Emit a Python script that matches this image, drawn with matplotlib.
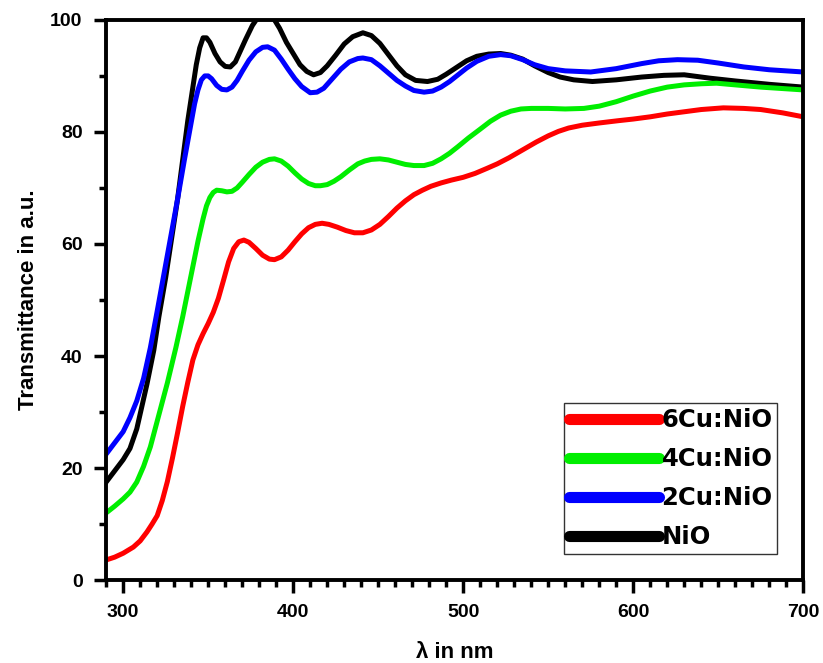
import matplotlib.pyplot as plt
from matplotlib.ticker import MultipleLocator

plt.rcParams['font.family'] = ['Liberation Sans', 'DejaVu Sans']
plt.rcParams['font.weight'] = 'bold'

# NiO (black)
wl_nio = [290, 295, 300, 304, 308, 311, 314, 318, 321, 325, 329, 332, 335, 338, 341,
          343, 345, 347, 349, 351, 354, 357, 360, 363, 366, 369, 372, 376, 380, 384,
          388, 392, 396, 400, 404, 408, 412, 416, 420, 425, 430, 435, 441, 446, 451,
          456, 461, 466, 472, 479, 485, 490, 496, 502, 508, 515, 522, 528, 535, 542,
          550, 557, 565, 576, 590, 605, 618, 630, 645, 660, 680, 700]
t_nio = [17.5, 19.5, 21.5, 23.5, 27, 31, 35, 41, 47, 54, 62, 68, 75, 82, 88,
         92, 95, 96.8, 96.8, 96, 94, 92.5, 91.7, 91.6, 92.5, 94.5, 96.5, 99, 100.8, 101.3,
         100.5, 98.5, 96, 94, 92, 90.8, 90.2, 90.6, 91.8, 93.7, 95.7, 97, 97.7, 97.2, 95.8,
         93.8, 91.8, 90.2, 89.2, 89, 89.4, 90.3, 91.5, 92.7, 93.5, 93.9, 94, 93.7, 93, 91.8,
         90.6, 89.8, 89.3, 89, 89.3, 89.8, 90.1, 90.2, 89.6, 89.1, 88.5, 88]

# 2Cu:NiO (blue)
wl_2cu = [290, 295, 300, 304, 308, 312, 316, 320, 323, 326, 329, 332, 336, 339, 342,
          344, 346, 348, 350, 352, 355, 358, 361, 364, 367, 370, 374, 378, 382, 385,
          389, 393, 397, 401, 405, 410, 414, 418, 423, 428, 433, 438, 441, 446, 451,
          456, 461, 466, 471, 477, 482, 487, 492, 497, 502, 508, 515, 522, 528, 535,
          542, 550, 560, 575, 590, 605, 615, 626, 638, 650, 665, 680, 700]
t_2cu = [22.5, 24.5, 26.5, 29, 32, 36, 41.5, 48, 53, 58, 63, 68, 75, 80, 85,
         87.5, 89.3, 90, 90, 89.5, 88.3, 87.6, 87.5, 88, 89.2, 90.8, 92.8, 94.3, 95.1, 95.2,
         94.6, 93, 91.2, 89.5, 88.1, 87, 87.1, 87.8, 89.5, 91.2, 92.5, 93.1, 93.2, 92.9, 91.8,
         90.5, 89.2, 88.2, 87.4, 87.1, 87.3, 88, 89, 90.2, 91.4, 92.6, 93.5, 93.8, 93.6, 92.9,
         92, 91.3, 90.9, 90.7, 91.3, 92.2, 92.7, 92.9, 92.8, 92.3, 91.6, 91.1, 90.7]

# 4Cu:NiO (green)
wl_4cu = [290, 295, 300, 304, 308, 312, 316, 321, 326, 331, 335, 338, 341, 344, 347,
          349, 351, 353, 355, 358, 361, 364, 367, 370, 374, 378, 382, 386, 389, 393,
          397, 401, 405, 409, 413, 416, 420, 424, 428, 433, 438, 442, 446, 451, 456,
          461, 466, 471, 477, 482, 487, 492, 497, 503, 510, 516, 522, 528, 534, 540,
          550, 560, 571, 580, 590, 600, 610, 620, 630, 640, 649, 660, 675, 700]
t_4cu = [12, 13.2, 14.5, 15.7, 17.5, 20.3, 23.8, 29.5, 35.2, 41.5, 47, 51.5, 56, 60.5, 64.5,
         66.8, 68.3, 69.2, 69.6, 69.5, 69.3, 69.4, 70, 71, 72.4, 73.7, 74.6, 75.1, 75.2, 74.8,
         73.9, 72.7, 71.6, 70.8, 70.4, 70.4, 70.6, 71.2, 72, 73.2, 74.3, 74.8, 75.1, 75.2, 75,
         74.6, 74.2, 74, 74, 74.4, 75.2, 76.2, 77.4, 78.9, 80.5, 81.9, 83, 83.7, 84.1, 84.2,
         84.2, 84.1, 84.2, 84.6, 85.4, 86.4, 87.3, 88, 88.4, 88.6, 88.7, 88.4, 88, 87.5]

# 6Cu:NiO (red)
wl_6cu = [290, 295, 300, 306, 310, 314, 317, 320, 323, 326, 329, 332, 335, 338, 341,
          344, 347, 350, 353, 356, 359, 362, 365, 368, 371, 374, 378, 382, 386, 389,
          393, 397, 401, 405, 409, 413, 417, 421, 426, 431, 436, 441, 446, 451, 456,
          461, 466, 471, 476, 481, 487, 493, 500, 507, 514, 520, 527, 535, 543, 550,
          556, 562, 570, 580, 591, 600, 610, 620, 630, 640, 653, 665, 675, 688, 700]
t_6cu = [3.6, 4.1, 4.8, 5.9, 7, 8.6, 10, 11.5, 14.2, 17.6, 21.8, 26.3, 31, 35.3, 39.3,
         42, 44, 45.8, 47.8, 50.3, 53.5, 56.8, 59.2, 60.4, 60.7, 60.3, 59.2, 58, 57.3, 57.2,
         57.7, 58.9, 60.4, 61.8, 62.9, 63.5, 63.7, 63.5, 63, 62.4, 62, 62, 62.5, 63.5, 64.9,
         66.4, 67.7, 68.8, 69.6, 70.3, 70.9, 71.4, 71.9, 72.6, 73.5, 74.3, 75.4, 76.8, 78.2, 79.3,
         80.1, 80.7, 81.2, 81.6, 82, 82.3, 82.7, 83.2, 83.6, 84, 84.3, 84.2, 84, 83.4, 82.7]

fig = plt.figure(figsize=(8.23, 6.63), dpi=100)
ax = fig.add_axes([0.129, 0.125, 0.847, 0.845])

l_nio, = ax.plot(wl_nio, t_nio, color="black", lw=3.6, label="NiO")
l_2cu, = ax.plot(wl_2cu, t_2cu, color="#0000ff", lw=3.6, label="2Cu:NiO")
l_4cu, = ax.plot(wl_4cu, t_4cu, color="#00ee00", lw=3.6, label="4Cu:NiO")
l_6cu, = ax.plot(wl_6cu, t_6cu, color="#ff0000", lw=3.6, label="6Cu:NiO")

ax.set_xlim(290, 700)
ax.set_ylim(0, 100)
ax.xaxis.set_major_locator(MultipleLocator(100))
ax.xaxis.set_minor_locator(MultipleLocator(10))
ax.yaxis.set_major_locator(MultipleLocator(20))
ax.yaxis.set_minor_locator(MultipleLocator(10))
ax.tick_params(which="major", direction="out", length=9, width=2.5, labelsize=14, pad=8)
ax.tick_params(which="minor", direction="out", length=5, width=2.5)
for lab in ax.get_xticklabels() + ax.get_yticklabels():
    lab.set_fontweight("bold")
for s in ax.spines.values():
    s.set_linewidth(2.8)

ax.set_xlabel("λ in nm", fontsize=16, fontweight="bold", labelpad=15)
ax.set_ylabel("Transmittance in a.u.", fontsize=16, fontweight="bold", labelpad=8)

leg = ax.legend([l_6cu, l_4cu, l_2cu, l_nio], ["6Cu:NiO", "4Cu:NiO", "2Cu:NiO", "NiO"],
                loc="lower right", bbox_to_anchor=(0.963, 0.046), borderaxespad=0,
                fancybox=False, edgecolor="black", handlelength=3.7,
                handletextpad=0.1, labelspacing=0.62, borderpad=0.2,
                prop={"family": "DejaVu Sans", "weight": "bold", "size": 17.5})
for line in leg.get_lines():
    line.set_linewidth(8)
    line.set_solid_capstyle("round")
leg.get_frame().set_linewidth(1.0)

plt.savefig("out.png", dpi=100)
